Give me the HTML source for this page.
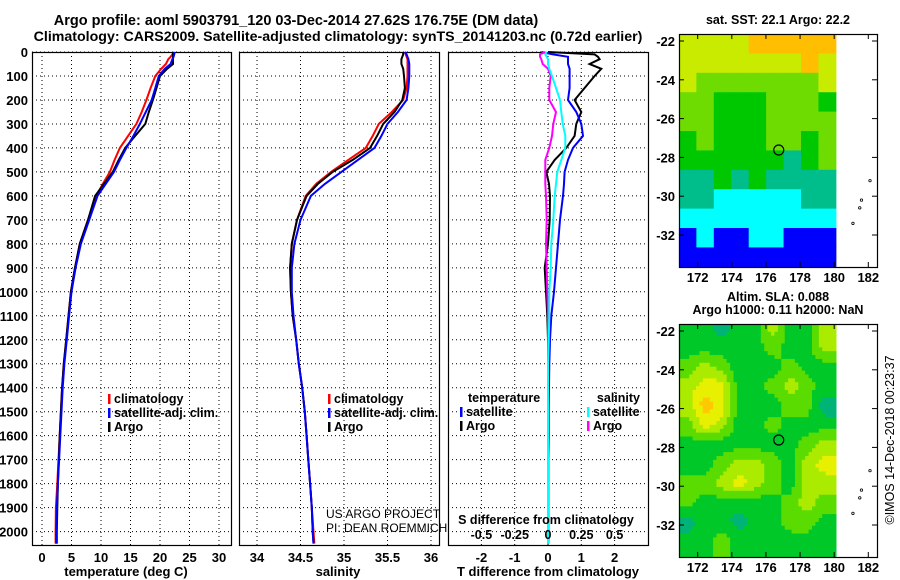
<!DOCTYPE html>
<html><head><meta charset="utf-8"><style>
html,body{margin:0;padding:0;background:#fff;}
svg{display:block;font-family:"Liberation Sans",Arial,sans-serif;}
.b{font-weight:bold;}
</style></head><body>
<svg id="chart" xmlns="http://www.w3.org/2000/svg" width="900" height="580" viewBox="0 0 900 580">
<rect width="900" height="580" fill="#fff"/>
<text x="296" y="25" text-anchor="middle" font-size="14.5" class="b">Argo profile: aoml 5903791_120 03-Dec-2014 27.62S 176.75E (DM data)</text>
<text x="338" y="41" text-anchor="middle" font-size="14.2" class="b">Climatology: CARS2009. Satellite-adjusted climatology: synTS_20141203.nc (0.72d earlier)</text>
<g id="g"></g>
</svg>
<script>
// ---- profile data ----
const depths = [0,10,20,30,50,70,100,150,200,250,300,350,400,450,500,550,600,700,800,900,1000,1100,1200,1300,1400,1500,1600,1700,1800,1900,2000,2050];
const tempArgo = [22.2,22.2,22.2,22.2,22.2,21.2,20.0,19.4,18.8,18.1,17.5,15.8,14.1,13.0,12.0,10.5,9.0,7.8,6.4,5.6,4.9,4.5,4.1,3.7,3.4,3.2,3.0,2.85,2.7,2.6,2.5,2.5];
const tempClim = [22.3,22.1,21.8,21.4,21.0,20.2,19.2,18.4,17.7,16.9,16.0,14.6,13.2,12.3,11.5,10.3,9.2,7.8,6.4,5.6,4.9,4.5,4.1,3.7,3.4,3.2,3.0,2.8,2.6,2.35,2.3,2.3];
const tempSat = [22.5,22.4,22.3,22.1,21.8,20.8,19.8,19.2,18.6,17.6,16.6,15.5,14.3,13.2,12.2,10.8,9.4,8.0,6.6,5.7,5.0,4.6,4.2,3.8,3.5,3.3,3.1,2.9,2.7,2.5,2.4,2.4];
const salArgo = [35.68,35.68,35.67,35.66,35.66,35.68,35.69,35.70,35.67,35.58,35.45,35.38,35.30,35.10,34.87,34.70,34.57,34.46,34.40,34.38,34.39,34.41,34.45,34.48,34.52,34.55,34.57,34.59,34.61,34.63,34.64,34.65];
const salClim = [35.70,35.71,35.72,35.73,35.73,35.73,35.73,35.72,35.68,35.55,35.40,35.33,35.25,35.05,34.85,34.68,34.56,34.46,34.40,34.38,34.39,34.41,34.45,34.48,34.52,34.55,34.57,34.59,34.61,34.63,34.65,34.66];
const salSat = [35.70,35.72,35.73,35.74,35.75,35.75,35.75,35.74,35.72,35.62,35.50,35.43,35.35,35.16,34.97,34.78,34.62,34.50,34.43,34.40,34.40,34.42,34.45,34.48,34.52,34.55,34.57,34.59,34.61,34.63,34.64,34.65];
const dTArgo = [0,1.4,1.5,1.55,1.25,1.6,1.4,1.1,0.8,1.0,0.85,0.8,0.55,0.2,-0.05,0.03,0.06,0.05,0,-0.1,-0.06,-0.02,0,0,0,0,0,0,0,0,0,0];
const dTSat = [-0.2,0.15,0.6,0.6,0.6,0.65,0.65,0.65,0.6,0.85,1.0,1.05,0.75,0.6,0.5,0.48,0.45,0.36,0.3,0.24,0.18,0.1,0.06,0.04,0.03,0.02,0.02,0.01,0.01,0.01,0.01,0.01];
const dSSat = [-0.01,-0.02,-0.01,0,0,0.01,0.03,0.06,0.09,0.1,0.11,0.13,0.13,0.1,0.07,0.06,0.05,0.04,0.025,0.02,0.01,0.01,0.005,0,0,0,0,0,0,0,0,0];
const dSArgo = [-0.02,-0.06,-0.06,-0.05,-0.04,0,0.02,0.01,0.01,0.06,0.04,0.03,0.01,-0.02,-0.02,-0.02,-0.015,-0.01,-0.015,-0.01,-0.005,0,0,0,0,0,0,0,0,0,0,0];
const depthTicks = [0,100,200,300,400,500,600,700,800,900,1000,1100,1200,1300,1400,1500,1600,1700,1800,1900,2000];
const tempTicks = [0,5,10,15,20,25,30];
const salTicks = [34,34.5,35,35.5,36];
const dTTicks = [-2,-1,0,1,2];
const dSTicks = [-0.5,-0.25,0,0.25,0.5];
const dSTickLabels = ["-0.5","-0.25","0","0.25","0.5"];
// ---- maps data ----
const lonTicks = [172,174,176,178,180,182];
const latTicks = [-22,-24,-26,-28,-30,-32];
const sstGrid = [
[5,5,5,5,6,6,6,6,6],
[5,5,5,5,5,5,5,6,5],
[5,4,4,4,4,4,4,4,5],
[4,4,3,3,3,4,4,4,3],
[4,4,3,3,3,4,4,4,4],
[3,4,3,3,3,4,4,3,4],
[3,3,3,3,3,3,2,3,4],
[2,2,3,2,3,2,2,2,2],
[2,2,1,1,1,1,1,2,2],
[1,1,1,1,1,1,1,1,1],
[0,1,0,0,1,1,0,0,0],
[0,0,0,0,0,0,0,0,0]];
const slaGrid = [
[1,1,0,1,1,3,1,1,3],
[1,1,1,1,1,2,1,1,3],
[2,3,2,1,1,1,2,1,1],
[3,4,4,1,1,2,3,2,1],
[3,5,4,1,1,1,2,2,0],
[2,4,3,1,1,2,1,1,1],
[1,1,1,1,1,1,1,2,3],
[1,1,2,3,3,2,1,3,4],
[2,2,3,4,3,2,1,3,3],
[2,1,1,1,1,1,2,3,2],
[0,1,1,0,1,1,2,2,1],
[1,1,2,1,1,1,1,1,1]];
const floatLon = 176.75, floatLat = -27.62;

const NS="http://www.w3.org/2000/svg";
const G=document.getElementById('g');
function mk(tag,attrs,parent){const e=document.createElementNS(NS,tag);for(const k in attrs)e.setAttribute(k,attrs[k]);(parent||G).appendChild(e);return e;}
function txt(s,x,y,opt){const e=mk('text',Object.assign({x:x,y:y,'font-size':12,'font-weight':'bold'},opt||{}));e.textContent=s;return e;}

const yD = d => 52 + d*0.2398;
const PB = 545;
function panel(name,x0,x1,xf,xt,xlabels){
  const g=mk('g',{});
  
  
  xt.forEach(v=>{const x=xf(v);const l=mk('line',{x1:x,x2:x,y1:52,y2:PB,stroke:'#000','stroke-dasharray':'1 3','stroke-width':1},g);});
  depthTicks.forEach(d=>{const y=yD(d);const l=mk('line',{x1:x0,x2:x1,y1:y,y2:y,stroke:'#000','stroke-dasharray':'1 3','stroke-width':1},g);});
  const r=mk('rect',{x:x0+0.5,y:52.5,width:x1-x0,height:PB-52,fill:'none',stroke:'#000','stroke-width':1.2},g);
  
  if(xlabels){xt.forEach((v,i)=>{const t=txt(xlabels[i],xf(v),562,{'text-anchor':'middle','font-size':13});});}
  return g;
}
function line(g,xs,xf,color,name,w){
  const p=depths.map((d,i)=>(i?'L':'M')+xf(xs[i]).toFixed(1)+' '+yD(d).toFixed(1)).join('');
  const e=mk('path',{d:p,fill:'none',stroke:color,'stroke-width':w||2},g);
  
  
}
function legend(g,x,y,items){
  items.forEach((it,i)=>{
    const yy=y+i*14;
    const b=mk('rect',{x:x,y:yy-9,width:2.5,height:10,fill:it[1]},g);
    
    const t=txt(it[0],x+6,yy,{'font-size':12.5});g.appendChild(t);
    
  });
}
depthTicks.forEach(d=>{const t=txt(String(d),28,yD(d)+5,{'text-anchor':'end','font-size':13});});

// Panel 1 temperature
const xT=v=>42+v*5.9;
const g1=panel('temperature-panel',32,231,xT,tempTicks,tempTicks.map(String));
line(g1,tempClim,xT,'#ff0000','clim-temp-line');
line(g1,tempArgo,xT,'#000','argo-temp-line');
line(g1,tempSat,xT,'#0000ff','sat-temp-line');
legend(g1,108,403,[['climatology','#f00'],['satellite-adj. clim.','#00f'],['Argo','#000']]);
{const t=txt('temperature (deg C)',126,576,{'text-anchor':'middle','font-size':13});}

// Panel 2 salinity
const xS=v=>257+(v-34)*87;
const g2=panel('salinity-panel',239,439,xS,salTicks,salTicks.map(String));
line(g2,salClim,xS,'#ff0000','clim-sal-line');
line(g2,salArgo,xS,'#000','argo-sal-line');
line(g2,salSat,xS,'#0000ff','sat-sal-line');
legend(g2,328,403,[['climatology','#f00'],['satellite-adj. clim.','#00f'],['Argo','#000']]);
{const t=txt('salinity',338,576,{'text-anchor':'middle','font-size':13});}
{const t=txt('US ARGO PROJECT',326,518,{'font-weight':'normal','font-size':12});
 const t2=txt('PI: DEAN ROEMMICH',326,532,{'font-weight':'normal','font-size':12});}

// Panel 3 differences
const xDT=v=>548+v*33.3;
const xDS=v=>548+v*133.2;
const g3=panel('difference-panel',448,648,xDT,dTTicks,dTTicks.map(String));
line(g3,dTArgo,xDT,'#000','argo-temp-diff-line');
line(g3,dTSat,xDT,'#0000ff','sat-temp-diff-line');
line(g3,dSArgo,xDS,'#ff00ff','argo-sal-diff-line');
line(g3,dSSat,xDS,'#00ffff','sat-sal-diff-line');
{const t=txt('temperature',468,402,{'font-size':12.5});}
legend(g3,460,416,[['satellite','#00f'],['Argo','#000']]);
{const t=txt('salinity',640,402,{'text-anchor':'end','font-size':12.5});}
legend(g3,587,416,[['satellite','#0ff'],['Argo','#f0f']]);
{const t=txt('S difference from climatology',546,524,{'text-anchor':'middle','font-size':12.5});}
dSTicks.forEach((v,i)=>{const t=txt(dSTickLabels[i],xDS(v),539,{'text-anchor':'middle','font-size':12.5});});
{const t=txt('T difference from climatology',548,576,{'text-anchor':'middle','font-size':13});}

// Maps
const MX0=679,MX1=877;
const lonX=l=>697.7+(l-172)*17.06;
const sstCols=[[0,0,255],[0,255,255],[0,190,140],[0,200,0],[110,220,0],[200,235,0],[255,190,0]];
const slaCols=[[0,180,120],[0,200,40],[90,220,0],[170,235,0],[230,240,0],[255,200,0]];
function map(name,top,grid,cols,smooth,title1,title2){
  const g=mk('g',{});
  
  const latY=l=>top+7+(-22-l)*19.4;
  const lat0=-21.64, lon0=170.9, lon1=180.1, latB=-33.65;
  if(!smooth){
    grid.forEach((row,r)=>row.forEach((v,c)=>{
      const x=lonX(lon0+c*(lon1-lon0)/9), x2=lonX(lon0+(c+1)*(lon1-lon0)/9);
      const y=latY(lat0-r), y2=latY(Math.max(lat0-r-1,latB));
      const cc=cols[v];
      const e=mk('rect',{x:x,y:y,width:x2-x+0.5,height:y2-y+0.5,fill:`rgb(${cc})`},g);
      
    }));
  } else {
    const step=0.2;
    for(let la=lat0;la>latB;la-=step){
      for(let lo=lon0;lo<lon1-0.01;lo+=step){
        const fr=Math.min(Math.max((lat0-la-0.1),0),11), fc=Math.min(Math.max((lo+0.1-lon0)-0.5,0),8);
        const r0=Math.floor(fr),c0=Math.floor(fc),r1=Math.min(r0+1,11),c1=Math.min(c0+1,8);
        const a=fr-r0,b=fc-c0;
        const v=(grid[r0][c0]*(1-a)*(1-b)+grid[r1][c0]*a*(1-b)+grid[r0][c1]*(1-a)*b+grid[r1][c1]*a*b);
        const cc=cols[Math.round(v)];
        const x=lonX(lo),y=latY(la);
        const e=mk('rect',{x:x,y:y,width:17.06*step+0.6,height:Math.min(19.4*step,latY(latB)-y)+0.6,fill:`rgb(${cc})`},g);
        
      }
    }
  }
  [[181.1,-31.4],[181.5,-30.6],[181.6,-30.2],[182.1,-29.2]].forEach(p=>{const e=mk('circle',{cx:lonX(p[0]),cy:latY(p[1]),r:1.2,fill:'none',stroke:'#000','stroke-width':0.8},g);});
  const c=mk('circle',{cx:lonX(floatLon),cy:latY(floatLat),r:5,fill:'none',stroke:'#000','stroke-width':1.2},g);
  
  const fr=mk('rect',{x:MX0+0.5,y:top+0.5,width:MX1-MX0,height:233,fill:'none',stroke:'#000','stroke-width':1.2},g);
  
  lonTicks.forEach(l=>{const x=lonX(l);mk('line',{x1:x,x2:x,y1:top,y2:top+5,stroke:'#000'},g);mk('line',{x1:x,x2:x,y1:top+233,y2:top+228,stroke:'#000'},g);
    const t=txt(String(l),x,top+248,{'text-anchor':'middle','font-size':13});g.appendChild(t);});
  latTicks.forEach(l=>{const y=latY(l);mk('line',{x1:MX0,x2:MX0+5,y1:y,y2:y,stroke:'#000'},g);mk('line',{x1:MX1,x2:MX1-5,y1:y,y2:y,stroke:'#000'},g);
    const t=txt(String(l),675,y+5,{'text-anchor':'end','font-size':13});g.appendChild(t);});
  const t1=txt(title1,778,top-10-(title2?13:0),{'text-anchor':'middle','font-size':12.5});g.appendChild(t1);
  if(title2){const t2=txt(title2,778,top-10,{'text-anchor':'middle','font-size':12.5});g.appendChild(t2);}
}
map('sst-map',34,sstGrid,sstCols,false,'sat. SST: 22.1 Argo: 22.2');
map('sla-map',324,slaGrid,slaCols,true,'Altim. SLA: 0.088','Argo h1000: 0.11 h2000: NaN');
{const t=txt('©IMOS 14-Dec-2018 00:23:37',0,0,{'font-weight':'normal','font-size':12.5,'text-anchor':'middle',transform:'translate(894,440) rotate(-90)'});}
</script>
</body></html>
